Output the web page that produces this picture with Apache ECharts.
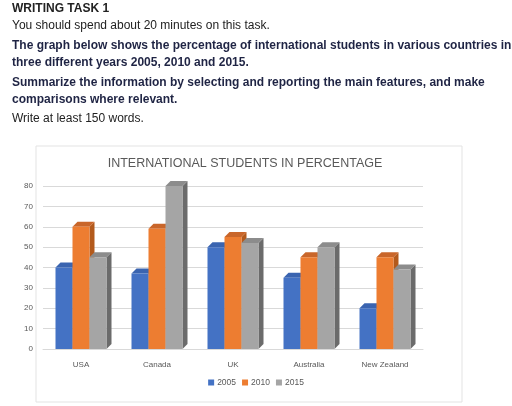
<!DOCTYPE html><html><head><meta charset="utf-8"><script src="https://cdn.jsdelivr.net/npm/echarts@6/dist/echarts.min.js"></script>
<style>body{margin:0;background:#fff}#c{width:512px;height:406px}</style></head><body><div id="c"></div><script>
const categories=['USA','Canada','UK','Australia','New Zealand'];
const years=['2005','2010','2015'];
const v2005=[40,37,50,35,20];
const v2010=[60,59,55,45,45];
const v2015=[45,80,52,50,39];
const yTicks=[0,10,20,30,40,50,60,70,80];
const cols=[['#4472c4','#2f5597','#3a64b0'],['#ed7d31','#b35a1c','#c9662a'],['#a5a5a5','#6b6b6b','#8c8c8c']];
const chart=echarts.init(document.getElementById('c'));
function mk(i,data){return{type:'custom',name:years[i],itemStyle:{color:cols[i][0]},data:data.map((v,k)=>[k,v]),
renderItem:function(p,api){const c=api.coord([api.value(0),api.value(1)]);const b=api.coord([api.value(0),0]);const w=17,d=5;
const x0=c[0]+(i-1)*w-w/2,x1=x0+w,y=c[1],by=b[1];
return{type:'group',children:[
{type:'polygon',shape:{points:[[x1,y],[x1+d,y-d],[x1+d,by-d],[x1,by]]},style:{fill:cols[i][1]}},
{type:'polygon',shape:{points:[[x0,y],[x0+d,y-d],[x1+d,y-d],[x1,y]]},style:{fill:cols[i][2]}},
{type:'rect',shape:{x:x0,y:y,width:w,height:by-y},style:{fill:cols[i][0]}}]};}};}
const hdr=[
{t:'WRITING TASK 1',y:3,b:true,c:'#222'},
{t:'You should spend about 20 minutes on this task.',y:20,b:false,c:'#222'},
{t:'The graph below shows the percentage of international students in various countries in',y:40,b:true,c:'#1f2444'},
{t:'three different years 2005, 2010 and 2015.',y:57,b:true,c:'#1f2444'},
{t:'Summarize the information by selecting and reporting the main features, and make',y:77,b:true,c:'#1f2444'},
{t:'comparisons where relevant.',y:94,b:true,c:'#1f2444'},
{t:'Write at least 150 words.',y:113,b:false,c:'#222'}];
chart.setOption({animation:false,
graphic:[...hdr.map(h=>({type:'text',left:12,top:h.y,style:{text:h.t,font:(h.b?'bold ':'')+'12px "Liberation Sans",Arial',fill:h.c}})),
{type:'rect',shape:{x:36,y:146,width:426,height:256},style:{fill:'none',stroke:'#e3e3e3',lineWidth:1}}],
title:{text:'INTERNATIONAL STUDENTS IN PERCENTAGE',left:240,textAlign:'center',top:152,textStyle:{fontSize:12.5,fontWeight:'normal',color:'#595959',fontFamily:'Liberation Sans'}},
legend:{bottom:14,left:'center',itemWidth:6,itemHeight:6,itemGap:6,icon:'rect',textStyle:{fontSize:8.5,color:'#595959',padding:[0,0,0,-2]},data:years},
grid:{left:43,right:89,top:186,bottom:57},
xAxis:{type:'category',data:categories,axisLine:{lineStyle:{color:'#d9d9d9'}},axisTick:{show:false},axisLabel:{fontSize:8,color:'#595959',margin:12}},
yAxis:{type:'value',min:0,max:80,interval:10,axisLine:{show:false},axisTick:{show:false},splitLine:{lineStyle:{color:'#d9d9d9'}},axisLabel:{fontSize:8,color:'#595959',margin:10}},
series:[mk(0,v2005),mk(1,v2010),mk(2,v2015)]});
</script></body></html>
